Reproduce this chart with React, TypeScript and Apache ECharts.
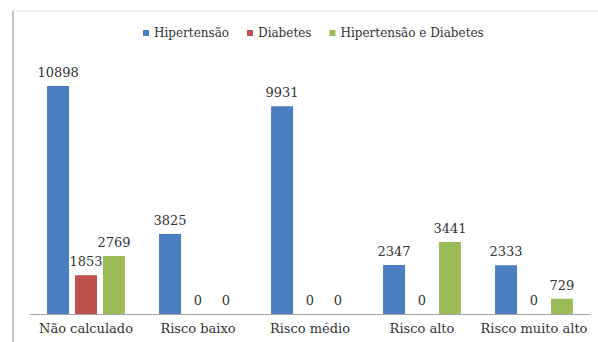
import React, { useEffect, useRef } from "react";
import * as echarts from "echarts";

const categories = ["Não calculado", "Risco baixo", "Risco médio", "Risco alto", "Risco muito alto"];
const hipertensao = [10898, 3825, 9931, 2347, 2333];
const diabetes = [1853, 0, 0, 0, 0];
const hipDiab = [2769, 0, 0, 3441, 729];
const seriesNames = ["Hipertensão", "Diabetes", "Hipertensão e Diabetes"];
const colors = ["#4A7EBF", "#C0504D", "#9BBB59"];

export default function App() {
  const ref = useRef<HTMLDivElement>(null);
  useEffect(() => {
    const chart = echarts.init(ref.current!, null, { renderer: "svg" });
    const font = "DejaVu Serif";
    const mk = (name: string, data: number[], color: string) => ({
      name,
      type: "bar",
      data,
      barWidth: 22,
      barGap: "27%",
      itemStyle: { color },
      label: {
        show: true,
        position: "top",
        distance: 7,
        color: "#333",
        fontFamily: font,
        fontSize: 13,
      },
    });
    chart.setOption({
      animation: false,
      backgroundColor: "#fff",
      textStyle: { fontFamily: font },
      legend: {
        top: 22,
        left: 138,
        itemWidth: 6,
        itemHeight: 6,
        itemGap: 18,
        icon: "rect",
        textStyle: { fontFamily: font, fontSize: 12, color: "#333" },
        data: seriesNames,
      },
      grid: { left: 30, right: 8, top: 63, bottom: 28, containLabel: false },
      xAxis: {
        type: "category",
        data: categories,
        axisLine: { lineStyle: { color: "#a6a6a6", width: 1 } },
        axisTick: { show: false },
        axisLabel: { fontFamily: font, fontSize: 13, color: "#333", margin: 8, interval: 0 },
      },
      yAxis: {
        type: "value",
        min: 0,
        max: 12000,
        show: false,
        splitLine: { show: false },
      },
      graphic: [
        { type: "line", shape: { x1: 13, y1: 11, x2: 13, y2: 342 }, style: { stroke: "#b0b0b0", lineWidth: 1.5 } },
        { type: "line", shape: { x1: 13, y1: 11, x2: 598, y2: 11 }, style: { stroke: "#e0e0e0", lineWidth: 1 } },
      ],
      series: [
        mk(seriesNames[0], hipertensao, colors[0]),
        mk(seriesNames[1], diabetes, colors[1]),
        mk(seriesNames[2], hipDiab, colors[2]),
      ],
    });
    return () => chart.dispose();
  }, []);
  return <div ref={ref} style={{ width: 598, height: 342, position: "fixed", left: 0, top: 0 }} />;
}
